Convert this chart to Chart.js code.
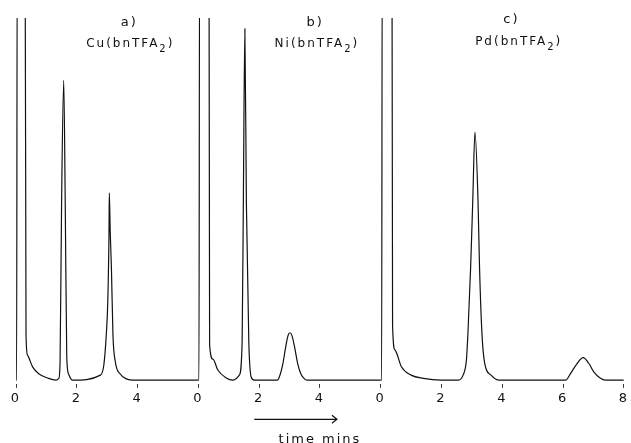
<!DOCTYPE html>
<html>
<head>
<meta charset="utf-8">
<script src="https://cdn.jsdelivr.net/npm/chart.js@4/dist/chart.umd.min.js"></script>
<style>
  html, body { margin: 0; padding: 0; background: #fff; }
  #wrap { position: relative; width: 631px; height: 443px; }
</style>
</head>
<body>
<div id="wrap"><canvas id="c" width="631" height="443"></canvas></div>
<script>
// ---- Data (time in minutes within each panel, detector signal in % of full scale) ----
const panelLetters   = ['a)', 'b)', 'c)'];
const panelCompounds = ['Cu', 'Ni', 'Pd'];

// a) Cu(bnTFA2)
const cuTime   = [0, 0.02, 0.04, 0.30, 0.33, 0.38, 0.55, 0.76, 1.04, 1.31, 1.41, 1.45, 1.50, 1.57, 1.62, 1.67, 1.73, 1.86, 2.78, 2.89, 2.97, 3.02, 3.06, 3.07, 3.10, 3.14, 3.19, 3.27, 3.43, 3.65, 3.86, 6.0];
const cuSignal = [0, 0, 120, 120, 12.5, 6.9, 3.6, 1.7, 0.6, 0, 0.5, 5, 49, 82.8, 49, 6.4, 1.7, 0, 1.4, 4.2, 12.5, 21.7, 41, 51.7, 41, 30.8, 12.5, 5, 1.7, 0.3, 0, 0];

// b) Ni(bnTFA2)
const niTime   = [0, 0.02, 0.04, 0.35, 0.37, 0.48, 0.64, 0.92, 1.13, 1.35, 1.44, 1.48, 1.53, 1.58, 1.66, 1.74, 1.84, 2.60, 2.69, 2.78, 2.87, 2.95, 3.01, 3.08, 3.17, 3.27, 3.37, 3.50, 3.60, 6.0];
const niSignal = [0, 0, 120, 120, 9.7, 5.8, 2.8, 0.6, 0, 1.4, 10.6, 49, 97, 49, 10.6, 0.8, 0, 0, 1.5, 4.5, 9, 12.3, 13.1, 12.3, 9, 4.5, 1.8, 0.3, 0, 0];

// c) Pd(bnTFA2)
const pdTime   = [0, 0.03, 0.05, 0.37, 0.39, 0.47, 0.68, 1.0, 1.4, 1.99, 2.54, 2.71, 2.82, 2.87, 2.96, 3.03, 3.10, 3.20, 3.25, 3.33, 3.42, 3.63, 3.90, 6.08, 6.25, 6.46, 6.66, 6.85, 7.01, 7.23, 7.39, 8.0];
const pdSignal = [0, 0, 120, 120, 15, 8.3, 3.7, 1.4, 0.5, 0, 0, 1.4, 5.6, 13, 31.5, 50, 68.5, 50, 31.5, 13, 4.7, 1.4, 0, 0, 1.9, 4.6, 6.2, 4.6, 2.3, 0.5, 0, 0];

// Tick labels along the shared time axis (each panel restarts at 0)
const tickLabels = ['0', '2', '4', '0', '2', '4', '0', '2', '4', '6', '8'];
const axisTitle = 'time mins';

// ---- Layout (panel start on the shared time axis) ----
const panelStart = [0, 6, 12];
const arrowSpan = [7.84, 10.56];
const labelX = [[3.73, 3.76], [9.84, 9.9], [16.3, 16.54]];
const labelY = [[5, 26], [5, 26], [2, 24]];

function toPoints(times, values, offset) {
  return times.map((t, i) => ({ x: offset + t, y: values[i] }));
}

const traceStyle = {
  borderColor: '#111',
  borderWidth: 1.2,
  pointRadius: 0,
  fill: false,
  cubicInterpolationMode: 'monotone',
  showLine: true
};

const decor = {
  id: 'decor',
  beforeDraw(chart) {
    chart.ctx.letterSpacing = '2px';
  },
  afterDraw(chart) {
    const ctx = chart.ctx;
    const xs = chart.scales.x;
    const top = chart.chartArea.top;
    ctx.save();
    ctx.fillStyle = '#111';
    ctx.textBaseline = 'middle';
    ctx.letterSpacing = '2px';
    for (let i = 0; i < 3; i++) {
      ctx.font = '13px "DejaVu Sans"';
      ctx.textAlign = 'center';
      ctx.fillText(panelLetters[i], xs.getPixelForValue(labelX[i][0]), top + labelY[i][0]);
      const p1 = panelCompounds[i] + '(bnTFA';
      const p2 = '2';
      const p3 = ')';
      ctx.font = '12px "DejaVu Sans"';
      const w1 = ctx.measureText(p1).width;
      const w3 = ctx.measureText(p3).width;
      ctx.font = '10px "DejaVu Sans"';
      const w2 = ctx.measureText(p2).width;
      const total = w1 + w2 + w3;
      let x = xs.getPixelForValue(labelX[i][1]) - total / 2;
      const y = top + labelY[i][1];
      ctx.textAlign = 'left';
      ctx.font = '12px "DejaVu Sans"';
      ctx.fillText(p1, x, y);
      x += w1;
      ctx.font = '10px "DejaVu Sans"';
      ctx.fillText(p2, x, y + 5);
      x += w2;
      ctx.font = '12px "DejaVu Sans"';
      ctx.fillText(p3, x, y);
    }
    const ay = chart.chartArea.bottom + 35.5;
    const x0 = xs.getPixelForValue(arrowSpan[0]);
    const x1 = xs.getPixelForValue(arrowSpan[1]);
    ctx.strokeStyle = '#111';
    ctx.lineWidth = 1.2;
    ctx.beginPath();
    ctx.moveTo(x0, ay);
    ctx.lineTo(x1, ay);
    ctx.moveTo(x1 - 5, ay - 4);
    ctx.lineTo(x1, ay);
    ctx.lineTo(x1 - 5, ay + 4);
    ctx.stroke();
    ctx.restore();
    ctx.letterSpacing = '0px';
  }
};

new Chart(document.getElementById('c'), {
  type: 'scatter',
  data: {
    datasets: [
      Object.assign({ label: 'Cu(bnTFA2)', data: toPoints(cuTime, cuSignal, panelStart[0]) }, traceStyle),
      Object.assign({ label: 'Ni(bnTFA2)', data: toPoints(niTime, niSignal, panelStart[1]) }, traceStyle),
      Object.assign({ label: 'Pd(bnTFA2)', data: toPoints(pdTime, pdSignal, panelStart[2]) }, traceStyle)
    ]
  },
  options: {
    responsive: false,
    animation: false,
    layout: { padding: { left: 16, right: 4, top: 18, bottom: -4 } },
    plugins: { legend: { display: false }, tooltip: { enabled: false } },
    scales: {
      x: {
        type: 'linear',
        min: 0,
        max: 20,
        border: { display: false },
        grid: { display: true, drawOnChartArea: false, drawTicks: true, tickLength: 4, color: '#333' },
        ticks: {
          stepSize: 2,
          padding: 3,
          color: '#111',
          font: { family: 'DejaVu Sans', size: 13 },
          maxRotation: 0,
          autoSkip: false,
          callback: (v) => tickLabels[Math.round(v / 2)]
        },
        title: {
          display: true,
          text: axisTitle,
          color: '#111',
          font: { family: 'DejaVu Sans', size: 13 },
          padding: { top: 22, bottom: 0 }
        }
      },
      y: { display: false, min: -1, max: 100 }
    }
  },
  plugins: [decor]
});
</script>
</body>
</html>
